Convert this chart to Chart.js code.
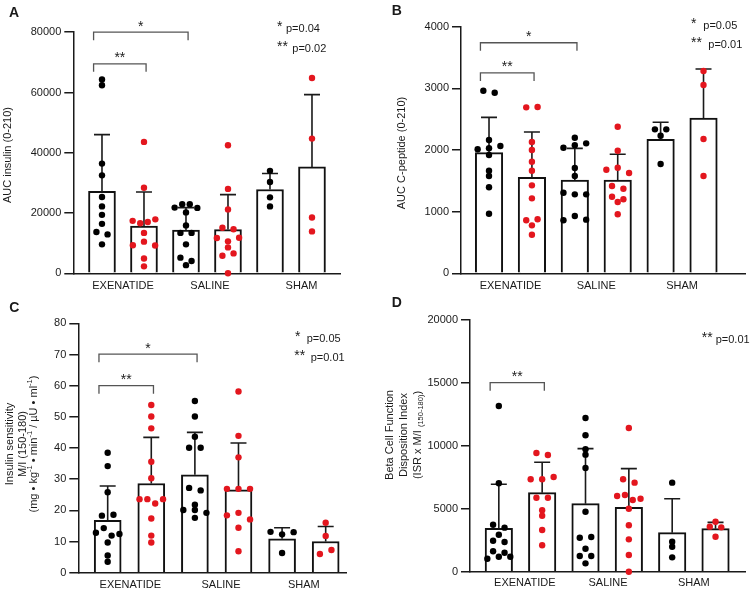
<!DOCTYPE html>
<html>
<head>
<meta charset="utf-8">
<script src="https://cdn.jsdelivr.net/npm/chart.js@4.4.0/dist/chart.umd.min.js"></script>
<style>
  body { margin: 0; background: #fff; }
  #wrap { position: relative; width: 750px; height: 600px; }
  canvas { position: absolute; }
</style>
</head>
<body>
<div id="wrap">
  <canvas id="panelA" width="375" height="294" style="left:0;top:0"></canvas>
  <canvas id="panelB" width="375" height="294" style="left:375px;top:0"></canvas>
  <canvas id="panelC" width="375" height="306" style="left:0;top:294px"></canvas>
  <canvas id="panelD" width="375" height="306" style="left:375px;top:294px"></canvas>
</div>
<script>
const groups = ['EXENATIDE', 'SALINE', 'SHAM'];

// A - AUC insulin
const aTicks = [0, 20000, 40000, 60000, 80000];
const aMean = [27200, 15700, 14300, 14500, 27800, 35300];
const aSD = [18800, 11300, 7500, 11600, 5300, 24000];
const aDots = [
    [64300, 62400, 36400, 32500, 25300, 22200, 19400, 16400, 13700, 12900, 9600],
    [43600, 28400, 17400, 16600, 17000, 17900, 13400, 9300, 10500, 9200, 4900, 2300],
    [21800, 22900, 22900, 21700, 20200, 15900, 13400, 13400, 9600, 5200, 4100, 2700],
    [42500, 28000, 21200, 15100, 14600, 11700, 10600, 11800, 8600, 5800, 6600, 0],
    [34000, 30300, 25200, 22200],
    [64800, 44700, 18500, 13900]
];
const aStats = [['*', 'p=0.04'], ['**', 'p=0.02']];
const aPairs = [[0, 2, '*'], [0, 1, '**']];

// B - AUC C-peptide
const bTicks = [0, 1000, 2000, 3000, 4000];
const bMean = [1957, 1557, 1513, 1513, 2173, 2519];
const bSD = [573, 735, 514, 417, 276, 794];
const bDots = [
    [2962, 2929, 2162, 2011, 2030, 2065, 1920, 1664, 1578, 1395, 967],
    [2692, 2697, 2129, 2000, 1810, 1664, 1427, 1216, 860, 876, 778, 626],
    [2199, 2037, 2076, 2108, 1708, 1578, 1307, 1281, 1281, 860, 929, 870],
    [2378, 1988, 1680, 1713, 1627, 1416, 1372, 1242, 1200, 1156, 957],
    [2335, 2335, 2232, 1773],
    [3281, 3054, 2178, 1578]
];
const bStats = [['*', 'p=0.05'], ['**', 'p=0.01']];
const bPairs = [[0, 2, '*'], [0, 1, '**']];

// C - insulin sensitivity
const cTicks = [0, 10, 20, 30, 40, 50, 60, 70, 80];
const cMean = [16.8, 28.6, 31.4, 26.6, 10.9, 10.0];
const cSD = [11.0, 14.8, 13.6, 15.0, 3.5, 4.8];
const cDots = [
    [38.5, 34.2, 25.8, 18.3, 18.6, 12.8, 14.3, 11.9, 12.4, 9.7, 5.5, 3.5],
    [53.8, 50.1, 46.3, 35.6, 30.3, 23.6, 23.6, 22.2, 23.6, 17.4, 11.9, 9.7],
    [55.1, 50.1, 43.6, 40.1, 40.1, 27.2, 26.4, 21.8, 20.1, 20.1, 19.2, 17.6],
    [58.1, 43.9, 37.0, 26.9, 26.9, 26.9, 18.4, 19.2, 17.1, 14.4, 6.9],
    [13.1, 12.3, 13.0, 6.3],
    [16.0, 11.8, 6.0, 7.3]
];
const cStats = [['*', 'p=0.05'], ['**', 'p=0.01']];
const cPairs = [[0, 2, '*'], [0, 1, '**']];

// D - disposition index
const dTicks = [0, 5000, 10000, 15000, 20000];
const dMean = [3446, 6278, 5405, 5112, 3100, 3419];
const dSD = [3498, 2416, 4372, 3076, 2702, 503];
const dDots = [
    [13170, 7024, 3736, 3500, 2941, 2464, 2361, 1621, 1510, 1033, 1192, 1192],
    [9433, 9274, 7341, 7341, 7526, 5881, 5881, 4879, 4451, 3314, 2098],
    [12215, 10838, 9725, 9300, 8240, 4768, 2702, 2755, 1828, 1245, 1245, 662],
    [11420, 7341, 7076, 6013, 6093, 5695, 5802, 5006, 3685, 2570, 1325, 0],
    [7076, 2384, 1987, 1139],
    [3974, 3578, 3525, 2782]
];
const dStats = [['**', 'p=0.01']];
const dPairs = [[0, 1, '**']];

const FONT = '"Liberation Sans", Arial, sans-serif';
const INK = '#1a1a1a';
const RED = '#e3161e';

// spread dots that sit at about the same height into a row
function swarm(values, center, range) {
    const thr = range * 0.0195;
    const rows = [];
    values.forEach(v => {
        const row = rows[rows.length - 1];
        if (row && row.length < 4 && Math.abs(v - row[0]) < thr) row.push(v);
        else rows.push([v]);
    });
    const pts = [];
    rows.forEach(row => {
        const n = row.length;
        const step = n > 1 ? Math.min(0.265, 0.54 / (n - 1)) : 0;
        row.forEach((v, k) => pts.push({ x: center + (k - (n - 1) / 2) * step, y: v }));
    });
    return pts;
}

function drawRich(ctx, segs) {
    const size = s => (s[1] ? 7.5 : 11);
    let total = 0;
    segs.forEach(s => {
        ctx.font = size(s) + 'px ' + FONT;
        total += ctx.measureText(s[0]).width;
    });
    let x = -total / 2;
    segs.forEach(s => {
        ctx.font = size(s) + 'px ' + FONT;
        const dy = s[1] === 1 ? -4 : s[1] === -1 ? 3 : 0;
        ctx.fillText(s[0], x, dy);
        x += ctx.measureText(s[0]).width;
    });
}

const panelPlugin = {
    id: 'panel',
    afterDatasetDraw(chart, args) {
        if (args.meta.type !== 'bar') return;
        const ctx = chart.ctx;
        const y = chart.scales.y;
        const ds = chart.data.datasets[args.index];
        ctx.save();
        ctx.strokeStyle = INK;
        ctx.lineWidth = 1.6;
        args.meta.data.forEach((bar, i) => {
            const top = y.getPixelForValue(ds.data[i].y + ds.sd[i]);
            ctx.beginPath();
            ctx.moveTo(bar.x, bar.y);
            ctx.lineTo(bar.x, top);
            ctx.moveTo(bar.x - 8, top);
            ctx.lineTo(bar.x + 8, top);
            ctx.stroke();
        });
        ctx.restore();
    },
    afterDraw(chart) {
        const cfg = chart.options.plugins.panel;
        const { ctx, chartArea } = chart;
        const x = chart.scales.x, y = chart.scales.y;
        const starFont = '14px ' + FONT;
        const textFont = '11px ' + FONT;
        ctx.save();
        ctx.fillStyle = INK;

        // group names under the axis
        ctx.font = textFont;
        ctx.textAlign = 'center';
        ctx.textBaseline = 'middle';
        groups.forEach((g, k) => {
            ctx.fillText(g, x.getPixelForValue(cfg.labelAt[k]), chartArea.bottom + cfg.labelDy);
        });

        // comparison brackets
        ctx.textBaseline = 'alphabetic';
        ctx.strokeStyle = '#555';
        ctx.lineWidth = 1.3;
        ctx.font = starFont;
        cfg.pairs.forEach(([i, j, mark], k) => {
            const yy = y.getPixelForValue(cfg.bracketY[k]);
            const x1 = x.getPixelForValue(i - 0.2);
            const x2 = x.getPixelForValue(j + 0.05);
            ctx.beginPath();
            ctx.moveTo(x1, yy + 8);
            ctx.lineTo(x1, yy);
            ctx.lineTo(x2, yy);
            ctx.lineTo(x2, yy + 8);
            ctx.stroke();
            ctx.fillText(mark, (x1 + x2) / 2, yy - 1.5);
        });

        // p values
        ctx.textAlign = 'left';
        cfg.stats.forEach(([star, p], k) => {
            const [sx, px, py] = cfg.statsPos[k];
            ctx.font = starFont;
            ctx.fillText(star, sx, py - 1);
            ctx.font = textFont;
            ctx.fillText(p, px, py);
        });

        // y titles
        ctx.textBaseline = 'middle';
        cfg.title.forEach((line, k) => {
            ctx.save();
            ctx.translate(cfg.titleX[k], cfg.titleY);
            ctx.rotate(-Math.PI / 2);
            drawRich(ctx, line);
            ctx.restore();
        });

        // panel letter
        ctx.font = 'bold 14px ' + FONT;
        ctx.textBaseline = 'alphabetic';
        ctx.fillText(cfg.letter, cfg.letterPos[0], cfg.letterPos[1]);
        ctx.restore();
    }
};

function makePanel(cfg, ticks, mean, sd, dots, stats, pairs) {
    const range = ticks[ticks.length - 1] - ticks[0];
    const datasets = dots.map((vals, i) => ({
        type: 'scatter',
        data: swarm(vals, i, range),
        pointRadius: 3.2,
        pointHoverRadius: 3.2,
        pointBorderWidth: 0,
        pointBackgroundColor: i % 2 ? RED : '#000',
        clip: false,
        order: 1
    }));
    datasets.push({
        type: 'bar',
        data: mean.map((v, i) => ({ x: i, y: v })),
        sd: sd,
        backgroundColor: '#fff',
        borderColor: '#111',
        borderWidth: 2,
        barThickness: cfg.barWidth,
        grouped: false,
        order: 2
    });

    new Chart(document.getElementById(cfg.canvas), {
        type: 'bar',
        data: { datasets },
        options: {
            responsive: false,
            animation: false,
            devicePixelRatio: 1,
            events: [],
            layout: { padding: { top: cfg.padTop, right: cfg.padRight, left: 0, bottom: 0 } },
            plugins: {
                legend: { display: false },
                tooltip: { enabled: false },
                panel: Object.assign({ stats, pairs }, cfg)
            },
            scales: {
                x: {
                    type: 'linear',
                    min: cfg.xMin,
                    max: cfg.xMax,
                    offset: false,
                    grid: { display: false },
                    ticks: { display: false },
                    border: { display: true, color: INK, width: 1.5 },
                    afterFit: s => { s.height = cfg.xHeight; }
                },
                y: {
                    min: ticks[0],
                    max: ticks[ticks.length - 1],
                    ticks: {
                        stepSize: ticks[1] - ticks[0],
                        padding: 3,
                        color: INK,
                        font: { family: FONT, size: 11 },
                        callback: v => String(v)
                    },
                    grid: { display: true, drawOnChartArea: false, drawTicks: true, tickLength: 9, color: INK, lineWidth: 1.5 },
                    border: { display: true, color: INK, width: 1.5 },
                    afterFit: s => { s.width = cfg.yWidth; }
                }
            }
        },
        plugins: [panelPlugin]
    });
}

makePanel({
    canvas: 'panelA', letter: 'A', letterPos: [9, 17],
    yWidth: 73.3, xHeight: 20.7, padTop: 32.2, padRight: 35,
    xMin: -0.683, xMax: 5.667, barWidth: 27,
    title: [[['AUC insulin (0-210)', 0]]], titleX: [8.3], titleY: 155,
    labelAt: [0.5, 2.57, 4.75], labelDy: 12.4,
    bracketY: [80000, 69500],
    statsPos: [[277, 286, 31.7], [277, 292.3, 52.3]]
}, aTicks, aMean, aSD, aDots, aStats, aPairs);

makePanel({
    canvas: 'panelB', letter: 'B', letterPos: [16.7, 15],
    yWidth: 86, xHeight: 20.7, padTop: 26.7, padRight: 5,
    xMin: -0.653, xMax: 5.967, barWidth: 27.5,
    title: [[['AUC C-peptide (0-210)', 0]]], titleX: [26.7], titleY: 153,
    labelAt: [0.5, 2.5, 4.5], labelDy: 12.4,
    bracketY: [3740, 3250],
    statsPos: [[316, 328.3, 29], [316, 333.3, 48]]
}, bTicks, bMean, bSD, bDots, bStats, bPairs);

makePanel({
    canvas: 'panelC', letter: 'C', letterPos: [9.3, 18.3],
    yWidth: 78.3, xHeight: 27.3, padTop: 29.3, padRight: 28.3,
    xMin: -0.674, xMax: 5.482, barWidth: 27,
    title: [
        [['Insulin sensitivity', 0]],
        [['M/I (150-180)', 0]],
        [['(mg \u2022 kg', 0], ['-1', 1], [' \u2022 min', 0], ['-1', 1], [' / \u00b5U \u2022 ml', 0], ['-1', 1], [')', 0]]
    ],
    titleX: [10, 22.7, 34.3], titleY: 150,
    labelAt: [0.52, 2.6, 4.5], labelDy: 12.3,
    bracketY: [70.1, 60.0],
    statsPos: [[295, 306.7, 48.3], [294.3, 310.7, 67.3]]
}, cTicks, cMean, cSD, cDots, cStats, cPairs);

makePanel({
    canvas: 'panelD', letter: 'D', letterPos: [16.7, 13],
    yWidth: 95, xHeight: 28.3, padTop: 26, padRight: 5,
    xMin: -0.665, xMax: 5.68, barWidth: 27.5,
    title: [
        [['Beta Cell Function', 0]],
        [['Disposition Index', 0]],
        [['(ISR x M/I ', 0], ['(150-180)', -1], [')', 0]]
    ],
    titleX: [15, 29.3, 43.3], titleY: 141,
    labelAt: [0.6, 2.52, 4.5], labelDy: 11,
    bracketY: [15020],
    statsPos: [[326.7, 340.7, 49.3]]
}, dTicks, dMean, dSD, dDots, dStats, dPairs);
</script>
</body>
</html>
